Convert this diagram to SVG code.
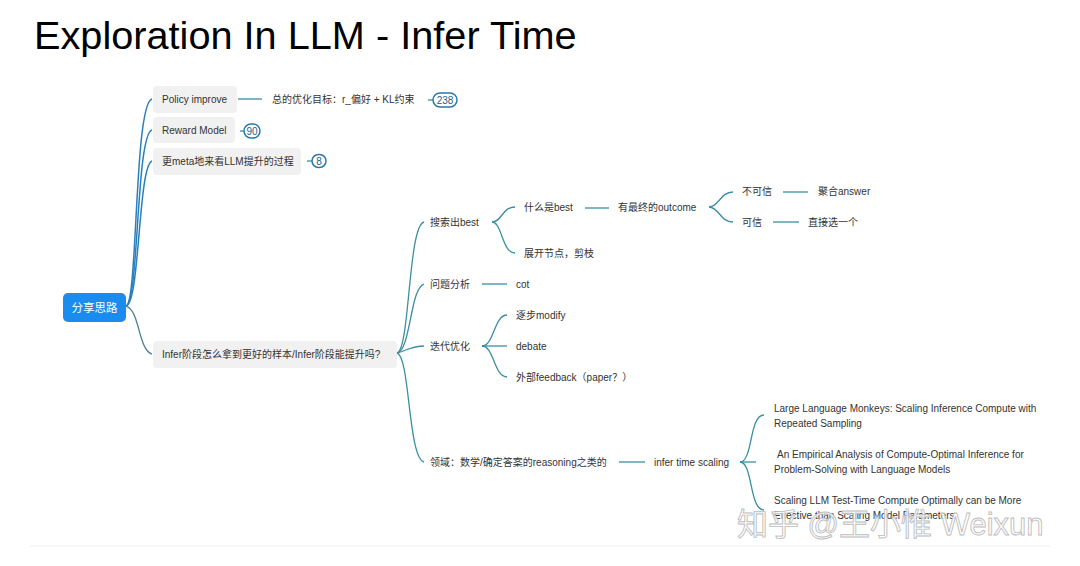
<svg xmlns="http://www.w3.org/2000/svg" width="1080" height="566" viewBox="0 0 1080 566">
<style>
.t{font-family:"Liberation Sans","Noto Sans CJK SC",sans-serif;font-size:10px;fill:#333}
.nb{fill:#f1f1f1}
.c{fill:none;stroke:#3b8fa0;stroke-width:1.3}
.c1{fill:none;stroke:#2a80bd;stroke-width:1.5}
.bd{fill:#fff;stroke:#2a78ad;stroke-width:1.5}
.bt{font-family:"Liberation Sans",sans-serif;font-size:10px;fill:#1d5f8a;text-anchor:middle}
</style>
<rect width="1080" height="566" fill="#fff"/>
<text x="34" y="49" font-family="Liberation Sans, sans-serif" font-size="39.7" fill="#000">Exploration In LLM - Infer Time</text>

<g id="connectors">
<path class="c1" d="M126,306 C138,304 134,104 152,99"/>
<path class="c1" d="M126,306 C139,304 136,134 152,130"/>
<path class="c1" d="M126,306 C140,304 138,166 152,161"/>
<path class="c" style="stroke:#4f8592" d="M126,306 C140,310 138,350 152,354"/>
<path class="c" d="M238,99 H262"/>
<path class="c" d="M428,100 H433"/>
<path class="c" d="M240,131 H244"/>
<path class="c" d="M307,161 H312"/>
<path class="c" d="M397,353 C410,350 408,226 424,222"/>
<path class="c" d="M397,353 C411,350 410,288 424,284"/>
<path class="c" d="M397,353 C408,350 412,346 424,346"/>
<path class="c" d="M397,353 C410,356 408,458 424,462"/>
<path class="c" d="M492,222 C502,222 502,207 515,207"/>
<path class="c" d="M492,222 C502,222 502,253 515,253"/>
<path class="c" d="M585,208 H609"/>
<path class="c" d="M709,207 C719,207 720,192 733,192"/>
<path class="c" d="M709,207 C719,207 720,222 733,222"/>
<path class="c" d="M783,192 H808"/>
<path class="c" d="M773,222 H799"/>
<path class="c" d="M482,284 H507"/>
<path class="c" d="M482,346 C494,346 494,315 507,315"/>
<path class="c" d="M482,346 H507"/>
<path class="c" d="M482,346 C494,346 494,377 507,377"/>
<path class="c" d="M619,462 H645"/>
<path class="c" d="M740,462 C753,462 749,415 764,415"/>
<path class="c" d="M740,462 H756"/>
<path class="c" d="M740,462 C753,462 749,510 764,510"/>
</g>

<g id="root">
<rect x="63" y="293" width="63" height="29" rx="5" fill="#1a8cf0"/>
<text x="94.5" y="311.5" font-family="Liberation Sans, Noto Sans CJK SC, sans-serif" font-size="11.5" fill="#fff" text-anchor="middle">分享思路</text>
</g>
<g id="policy">
<rect class="nb" x="153" y="86" width="84" height="27" rx="4"/>
<text class="t" x="162" y="102.5">Policy improve</text>
</g>
<g id="policy-goal">
<text class="t" x="272" y="102.5">总的优化目标：r_偏好 + KL约束</text>
</g>
<g id="badge-238">
<rect class="bd" x="433" y="93" width="24" height="14" rx="7"/>
<text class="bt" x="445" y="103.5">238</text>
</g>
<g id="reward">
<rect class="nb" x="153" y="117" width="82" height="26" rx="4"/>
<text class="t" x="162" y="133.5">Reward Model</text>
</g>
<g id="badge-90">
<rect class="bd" x="244" y="124" width="16" height="14" rx="7"/>
<text class="bt" x="252" y="134.5">90</text>
</g>
<g id="meta">
<rect class="nb" x="153" y="148" width="148" height="27" rx="4"/>
<text class="t" x="162" y="164.5">更meta地来看LLM提升的过程</text>
</g>
<g id="badge-8">
<rect class="bd" x="312" y="154.5" width="14" height="13" rx="6.5"/>
<text class="bt" x="319" y="164.5">8</text>
</g>
<g id="infer">
<rect class="nb" x="153" y="341" width="244" height="27" rx="4"/>
<text class="t" x="162" y="357.5">Infer阶段怎么拿到更好的样本/Infer阶段能提升吗?</text>
</g>
<g id="search"><text class="t" x="430" y="225.5">搜索出best</text></g>
<g id="what-best"><text class="t" x="524" y="210.5">什么是best</text></g>
<g id="outcome"><text class="t" x="618" y="210.5">有最终的outcome</text></g>
<g id="untrust"><text class="t" x="742" y="194.5">不可信</text></g>
<g id="aggregate"><text class="t" x="818" y="194.5">聚合answer</text></g>
<g id="trust"><text class="t" x="742" y="225.5">可信</text></g>
<g id="pick"><text class="t" x="808" y="225.5">直接选一个</text></g>
<g id="expand"><text class="t" x="524" y="256.5">展开节点，剪枝</text></g>
<g id="analysis"><text class="t" x="430" y="287.5">问题分析</text></g>
<g id="cot"><text class="t" x="516" y="287.5">cot</text></g>
<g id="iterate"><text class="t" x="430" y="349.5">迭代优化</text></g>
<g id="modify"><text class="t" x="516" y="318.5">逐步modify</text></g>
<g id="debate"><text class="t" x="516" y="349.5">debate</text></g>
<g id="feedback"><text class="t" x="516" y="380.5">外部feedback（paper？）</text></g>
<g id="domain"><text class="t" x="430" y="465.5">领域：数学/确定答案的reasoning之类的</text></g>
<g id="scaling"><text class="t" x="654" y="465.5">infer time scaling</text></g>
<g id="paper1">
<text class="t" x="774" y="411.5">Large Language Monkeys: Scaling Inference Compute with</text>
<text class="t" x="774" y="426.5">Repeated Sampling</text>
</g>
<g id="paper2">
<text class="t" x="777" y="457.5">An Empirical Analysis of Compute-Optimal Inference for</text>
<text class="t" x="774" y="472.5">Problem-Solving with Language Models</text>
</g>
<g id="paper3">
<text class="t" x="774" y="503.5">Scaling LLM Test-Time Compute Optimally can be More</text>
<text class="t" x="774" y="518.5">Effective than Scaling Model Parameters</text>
</g>
<line x1="30" y1="546" x2="1050" y2="546" stroke="#f0f0f0" stroke-width="1"/>
<text x="737" y="535" font-family="Liberation Sans, Noto Sans CJK SC, sans-serif" font-size="31" fill="#fff" fill-opacity="0.85" stroke="#bdbdbd" stroke-width="0.9">知乎 @王小惟 Weixun</text>
</svg>
